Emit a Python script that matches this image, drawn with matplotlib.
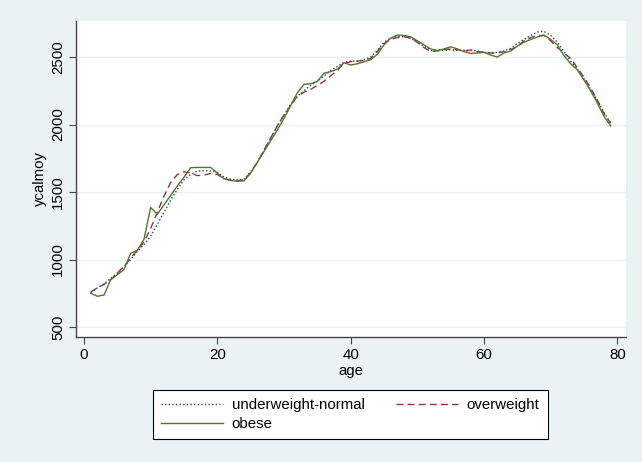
import matplotlib
matplotlib.use("Agg")
import matplotlib.pyplot as plt

plt.rcParams["font.family"] = ["Liberation Sans", "DejaVu Sans"]

# mean calories by age, one series per BMI group
ages = list(range(1, 80))

underweight_normal = [
    752, 790, 820, 860, 900, 945, 1000, 1060, 1110, 1175,
    1260, 1350, 1440, 1520, 1590, 1630, 1655, 1658, 1656, 1645,
    1610, 1595, 1590, 1595, 1650, 1720, 1810, 1900, 1990, 2070,
    2150, 2210, 2250, 2290, 2320, 2360, 2400, 2430, 2460, 2470,
    2470, 2480, 2500, 2550, 2610, 2640, 2655, 2650, 2640, 2610,
    2580, 2550, 2550, 2550, 2555, 2550, 2550, 2550, 2545, 2535,
    2530, 2535, 2545, 2565, 2600, 2630, 2660, 2685, 2690, 2660,
    2610, 2540, 2470, 2410, 2340, 2260, 2180, 2090, 2010,
]

overweight = [
    760, 790, 815, 850, 900, 950, 1010, 1070, 1130, 1230,
    1350, 1470, 1570, 1630, 1650, 1640, 1622, 1625, 1638, 1630,
    1600, 1588, 1585, 1590, 1645, 1720, 1810, 1900, 1990, 2070,
    2140, 2210, 2240, 2260, 2290, 2320, 2360, 2400, 2455, 2465,
    2470, 2475, 2490, 2540, 2600, 2630, 2645, 2650, 2640, 2610,
    2570, 2540, 2545, 2555, 2560, 2555, 2545, 2550, 2540, 2535,
    2530, 2530, 2540, 2555, 2580, 2620, 2645, 2660, 2660, 2620,
    2570, 2530, 2490, 2420, 2350, 2270, 2180, 2080, 2010,
]

obese = [
    750, 728, 737, 850, 888, 925, 1046, 1070, 1150, 1385,
    1335, 1405, 1475, 1545, 1610, 1680, 1682, 1682, 1682, 1640,
    1598, 1585, 1580, 1583, 1640, 1720, 1800, 1880, 1960, 2045,
    2140, 2235, 2298, 2302, 2320, 2380, 2392, 2410, 2458, 2441,
    2450, 2465, 2480, 2520, 2590, 2640, 2663, 2660, 2650, 2620,
    2590, 2560, 2548, 2560, 2576, 2560, 2540, 2527, 2530, 2535,
    2515, 2500, 2530, 2545, 2580, 2610, 2630, 2648, 2663, 2630,
    2590, 2510, 2450, 2405, 2330, 2250, 2160, 2060, 1990,
]

x_ticks = [0, 20, 40, 60, 80]
y_ticks = [500, 1000, 1500, 2000, 2500]

bg = "#eaf2f3"
axis_col = "#444444"
fs = 10.8

fig = plt.figure(figsize=(6.42, 4.62), dpi=100, facecolor=bg)
ax = fig.add_axes([76 / 642, 1 - 337 / 462, 550 / 642, 316 / 462])
ax.set_facecolor("white")

l1, = ax.plot(ages, underweight_normal, color="#1a476f", lw=1.0,
              linestyle=(0, (1, 1.6)), label="underweight-normal")
l2, = ax.plot(ages, overweight, color="#90353b", lw=1.0,
              linestyle=(0, (5, 3)), label="overweight")
l3, = ax.plot(ages, obese, color="#55752f", lw=1.0,
              linestyle="-", label="obese")

ax.set_xlim(-1.2, 81.3)
ax.set_ylim(426, 2767)
ax.set_xticks(x_ticks)
ax.set_yticks(y_ticks)
ax.set_yticklabels([str(v) for v in y_ticks], rotation=90, va="center")

ax.grid(axis="y", color=bg, lw=1.0)
ax.set_axisbelow(True)
for side in ["top", "right"]:
    ax.spines[side].set_visible(False)
for side in ["left", "bottom"]:
    ax.spines[side].set_color(axis_col)
    ax.spines[side].set_linewidth(1.0)
ax.tick_params(axis="both", direction="out", length=5, width=0.8,
               color=axis_col, labelsize=fs, labelcolor="black", pad=3)

ax.set_xlabel("age", fontsize=fs, labelpad=1)
ax.set_ylabel("ycalmoy", fontsize=fs, labelpad=3)

leg = fig.legend([l1, l3, l2], ["underweight-normal", "obese", "overweight"],
                 ncol=2, loc="center",
                 bbox_to_anchor=(350.5 / 642, 1 - 414.5 / 462),
                 fontsize=fs, handlelength=4.1, frameon=True, fancybox=False,
                 edgecolor="black", facecolor="white", framealpha=1,
                 borderpad=0.55, labelspacing=0.35, columnspacing=2.1,
                 handletextpad=0.6)
leg.get_frame().set_linewidth(0.8)

fig.savefig("out.png", dpi=100, facecolor=bg)
